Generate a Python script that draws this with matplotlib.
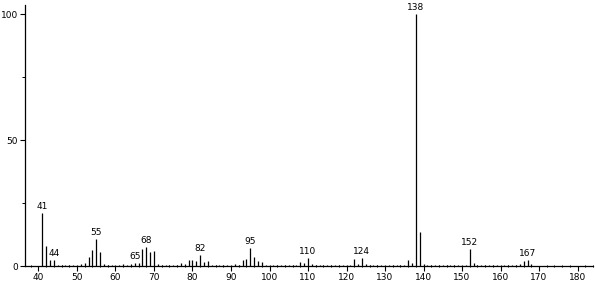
import matplotlib
matplotlib.use("Agg")
import matplotlib.pyplot as plt
from matplotlib.ticker import MultipleLocator

mz = [41, 42, 43, 44, 45, 46, 47, 48, 49, 50, 51, 52, 53, 54, 55, 56, 57, 58, 59, 60,
      61, 62, 63, 64, 65, 66, 67, 68, 69, 70, 71, 72, 73, 74, 75, 76, 77, 78, 79, 80,
      81, 82, 83, 84, 85, 86, 87, 88, 89, 90, 91, 92, 93, 94, 95, 96, 97, 98, 99, 100,
      101, 102, 103, 104, 105, 106, 107, 108, 109, 110, 111, 112, 113, 114, 115, 116, 117, 118, 119, 120,
      121, 122, 123, 124, 125, 126, 127, 128, 129, 130, 131, 132, 133, 134, 135, 136, 137, 138, 139, 140,
      141, 142, 143, 144, 145, 146, 147, 148, 149, 150, 151, 152, 153, 154, 155, 156, 157, 158, 159, 160,
      161, 162, 163, 164, 165, 166, 167, 168]
intensity = [21.0, 7.8, 2.4, 2.5, 0.4, 0.4, 0.4, 0.4, 0.3, 0.4, 0.9, 1.0, 3.5, 6.2, 10.8, 5.6, 0.6, 0.5, 0.4, 0.3,
             0.5, 0.6, 0.5, 0.6, 1.1, 1.0, 6.8, 7.7, 5.6, 5.8, 0.6, 0.4, 0.3, 0.3, 0.3, 0.4, 1.2, 0.6, 2.3, 2.5,
             2.0, 4.4, 1.4, 2.0, 0.5, 0.3, 0.3, 0.3, 0.4, 0.4, 0.9, 0.5, 2.5, 2.9, 7.0, 3.6, 1.8, 1.4, 0.5, 0.3,
             0.3, 0.3, 0.3, 0.3, 0.4, 0.3, 0.5, 1.6, 1.0, 3.0, 0.6, 0.5, 0.3, 0.3, 0.3, 0.3, 0.3, 0.3, 0.3, 0.3,
             0.4, 2.7, 0.6, 3.0, 0.6, 0.3, 0.3, 0.3, 0.3, 0.3, 0.3, 0.3, 0.3, 0.3, 0.4, 2.4, 1.2, 100.0, 13.7, 0.6,
             0.3, 0.3, 0.3, 0.3, 0.3, 0.3, 0.3, 0.3, 0.3, 0.3, 0.4, 6.9, 1.0, 0.3, 0.3, 0.3, 0.3, 0.3, 0.4, 0.3,
             0.3, 0.3, 0.3, 0.4, 0.6, 2.0, 2.4, 0.6]
labeled = [41, 44, 55, 65, 68, 82, 95, 110, 124, 138, 152, 167]

xticks = [40, 50, 60, 70, 80, 90, 100, 110, 120, 130, 140, 150, 160, 170, 180]
yticks = [0, 50, 100]

fig = plt.figure(figsize=(5.95, 2.82), dpi=100)
ax = fig.add_axes([0.042, 0.0567, 0.9546, 0.925])

ax.vlines(mz, 0, intensity, colors="black", linewidth=0.9)

lookup = dict(zip(mz, intensity))
for m in labeled:
    ax.annotate(str(m), (m, lookup[m]), xytext=(0, 1.5), textcoords="offset points",
                ha="center", va="bottom", fontsize=6.5, color="black")

ax.set_xlim(36.5, 184.0)
ax.set_ylim(0, 103.6)
ax.set_xticks(xticks)
ax.set_xticklabels([str(t) for t in xticks])
ax.set_yticks(yticks)
ax.set_yticklabels([str(t) for t in yticks])
ax.xaxis.set_minor_locator(MultipleLocator(2))
ax.yaxis.set_minor_locator(MultipleLocator(25))

for s in ["top", "right"]:
    ax.spines[s].set_visible(False)
for s in ["left", "bottom"]:
    ax.spines[s].set_linewidth(0.9)

ax.tick_params(axis="both", which="major", labelsize=6.5, length=3.5, width=0.8, pad=1.5)
ax.tick_params(axis="x", which="minor", length=2, width=0.7, direction="inout")
ax.tick_params(axis="y", which="minor", length=2, width=0.7)

fig.savefig("out.png", dpi=100)
